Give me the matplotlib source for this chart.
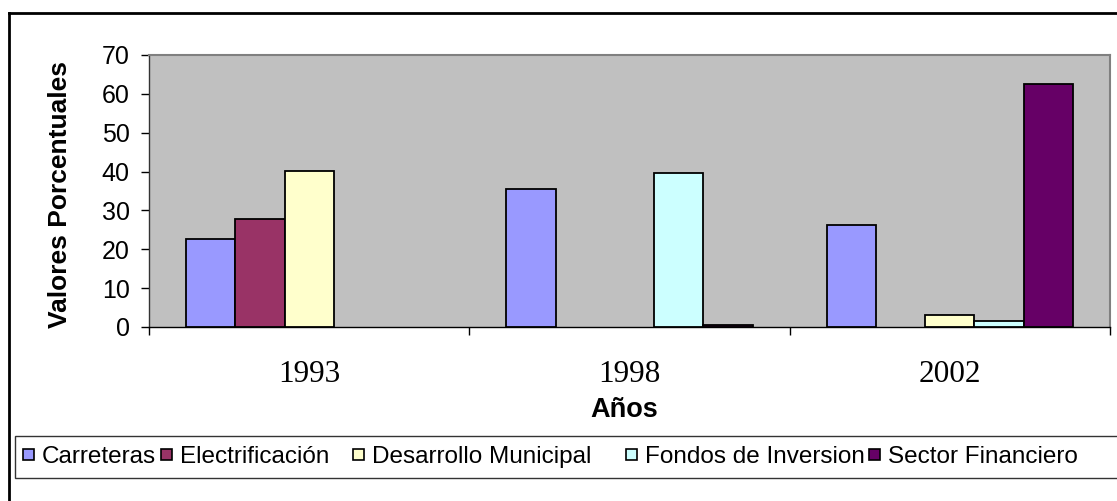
import matplotlib
matplotlib.use("Agg")
import matplotlib.pyplot as plt
from matplotlib.lines import Line2D
from matplotlib.patches import Rectangle
import numpy as np

years = ["1993", "1998", "2002"]
series_names = ["Carreteras", "Electrificación", "Desarrollo Municipal",
                "Fondos de Inversion", "Sector Financiero"]
carreteras = [22.6, 35.6, 26.3]
electrificacion = [27.8, 0.0, 0.0]
desarrollo_municipal = [40.1, 0.0, 3.1]
fondos_inversion = [0.0, 39.6, 1.6]
sector_financiero = [0.0, 0.5, 62.5]
series_values = [carreteras, electrificacion, desarrollo_municipal,
                 fondos_inversion, sector_financiero]
colors = ["#9999FF", "#993366", "#FFFFCC", "#CCFFFF", "#660066"]
y_ticks = [0, 10, 20, 30, 40, 50, 60, 70]

W, H = 1117, 501
fig = plt.figure(figsize=(W / 100, H / 100), dpi=100)
fig.patch.set_facecolor("white")


def fx(px):
    return px / W


def fy(py):
    return 1 - py / H


ax = fig.add_axes([fx(149), fy(327), (1110 - 149) / W, (327 - 55) / H])
ax.set_facecolor("#C0C0C0")

n = len(series_names)
gap = 1.5
bw = 1.0 / (n + gap)
x = np.arange(len(years))
for i, (name, vals, c) in enumerate(zip(series_names, series_values, colors)):
    offs = (i - (n - 1) / 2) * bw
    xs = [xi + offs for xi, v in zip(x, vals) if v > 0]
    vs = [v for v in vals if v > 0]
    ax.bar(xs, vs, width=bw, color=c, edgecolor="black", linewidth=1.3, zorder=3)

ax.set_xlim(-0.5, len(years) - 0.5)
ax.set_ylim(0, 70)
ax.set_yticks(y_ticks)
ax.set_yticklabels([str(t) for t in y_ticks], fontfamily="Liberation Sans", fontsize=18)
ax.tick_params(axis="y", direction="out", length=6, width=1, pad=8, colors="black")

ax.set_xticks(np.arange(len(years) + 1) - 0.5)
ax.set_xticklabels([])
ax.tick_params(axis="x", which="major", direction="out", length=6, width=1)
ax.set_xticks(x, minor=True)
ax.set_xticklabels(years, minor=True, fontfamily="Liberation Serif", fontsize=22.5)
ax.tick_params(axis="x", which="minor", length=0, pad=24)

for s in ["top", "right"]:
    ax.spines[s].set_color("#808080")
    ax.spines[s].set_linewidth(1.5)
ax.spines["left"].set_color("#333333")
ax.spines["bottom"].set_color("black")
ax.spines["left"].set_linewidth(1)
ax.spines["bottom"].set_linewidth(1)

ax.set_ylabel("Valores Porcentuales", fontfamily="Liberation Sans",
              fontweight="bold", fontsize=19, va="center")
ax.yaxis.set_label_coords((60 - 149) / (1110 - 149), (327 - 195) / (327 - 55))
ax.set_xlabel("Años", fontfamily="Liberation Sans", fontweight="bold", fontsize=19.5)
ax.xaxis.set_label_coords((624 - 149) / (1110 - 149), (327 - 397) / (327 - 55))

# legend (Excel style, clipped at the right edge)
fig.add_artist(Rectangle((fx(15), fy(478)), fx(1140) - fx(15), fy(436) - fy(478),
                         transform=fig.transFigure, facecolor="white",
                         edgecolor="#333333", linewidth=1.0))
marker_x = [23, 161, 353, 626, 869]
for mx, name, c in zip(marker_x, series_names, colors):
    fig.add_artist(Rectangle((fx(mx), fy(460)), 11 / W, 11 / H,
                             transform=fig.transFigure, facecolor=c,
                             edgecolor="black", linewidth=1.2))
    fig.text(fx(mx + 19), fy(463), name, fontfamily="Liberation Sans",
             fontsize=17.5, va="baseline", ha="left")

fig.add_artist(Line2D([fx(9), 1.0], [fy(13), fy(13)], color="black",
                      linewidth=2, transform=fig.transFigure))
fig.add_artist(Line2D([fx(9), fx(9)], [0, fy(13)], color="black",
                      linewidth=2, transform=fig.transFigure))

fig.savefig("out.png", dpi=100)
